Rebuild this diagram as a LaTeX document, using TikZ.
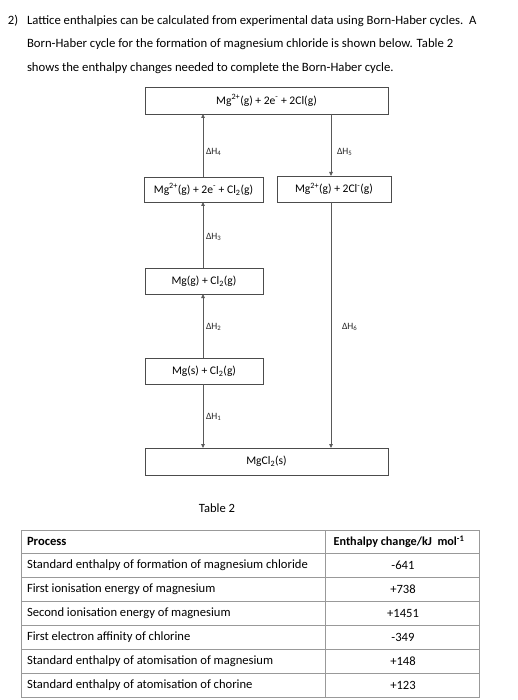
\documentclass[tikz,border=0pt]{standalone}
\usepackage{fontspec}
\setmainfont{Carlito}
\usetikzlibrary{arrows.meta}
\newcommand{\sps}[1]{\textsuperscript{#1}}
\newcommand{\sbs}[1]{\textsubscript{#1}}
\begin{document}
\begin{tikzpicture}[x=1pt,y=-1pt,
  every node/.style={inner sep=0pt,outer sep=0pt},
  para/.style={anchor=west,font=\fontsize{12.7}{15}\selectfont},
  lvl/.style={draw=black!70,line width=0.8pt,font=\fontsize{11.6}{13}\selectfont},
  dh/.style={anchor=west,font=\fontsize{9.6}{11}\selectfont,text=black!85},
  arr/.style={draw=black!65,line width=0.8pt,-{Triangle[length=4pt,width=3.5pt]}},
  grid/.style={draw=black!40,line width=0.8pt},
  cell/.style={anchor=west,font=\fontsize{12.6}{15}\selectfont},
  val/.style={font=\fontsize{12.6}{15}\selectfont}]
\useasboundingbox (0,0) rectangle (517,700);
% intro text
\node[para] (n2) at (8,21) {2)};
\node[para] (l1) at (27,21) {Lattice enthalpies can be calculated from experimental data using Born-Haber cycles.\ \ A};
\node[para] (l2) at (27,44.5) {Born-Haber cycle for the formation of magnesium chloride is shown below. Table 2};
\node[para] (l3) at (27,68) {shows the enthalpy changes needed to complete the Born-Haber cycle.};
% levels
\node[lvl,minimum width=243,minimum height=27] (top) at (266.5,100.5) {Mg\sps{2+}(g) + 2e\sps{-} + 2Cl(g)};
\node[lvl,minimum width=119,minimum height=25] (bl) at (203.5,189.5) {Mg\sps{2+}(g) + 2e\sps{-} + Cl\sbs{2}(g)};
\node[lvl,minimum width=114,minimum height=26] (br) at (334,189) {Mg\sps{2+}(g) + 2Cl\sps{-}(g)};
\node[lvl,minimum width=118,minimum height=26] (mgg) at (204,281) {Mg(g) + Cl\sbs{2}(g)};
\node[lvl,minimum width=118,minimum height=26] (mgs) at (204,371) {Mg(s) + Cl\sbs{2}(g)};
\node[lvl,minimum width=243,minimum height=27] (bot) at (266.5,461.5) {MgCl\sbs{2}(s)};
% arrows
\draw[arr] (bl.north -| 203,0) -- (top.south -| 203,0);
\draw[arr] (mgg.north -| 203,0) -- (bl.south -| 203,0);
\draw[arr] (mgs.north -| 203,0) -- (mgg.south -| 203,0);
\draw[arr] (mgs.south -| 203,0) -- (bot.north -| 203,0);
\draw[arr] (top.south -| 331,0) -- (br.north -| 331,0);
\draw[arr] (br.south -| 331,0) -- (bot.north -| 331,0);
\node[dh] (h4) at (206,152) {ΔH\sbs{4}};
\node[dh] (h5) at (337,152) {ΔH\sbs{5}};
\node[dh] (h3) at (206,237) {ΔH\sbs{3}};
\node[dh] (h2) at (206,327) {ΔH\sbs{2}};
\node[dh] (h6) at (342,327) {ΔH\sbs{6}};
\node[dh] (h1) at (206,417) {ΔH\sbs{1}};
% table
\node[val] (cap) at (217,508) {Table 2};
\draw[grid] (21,530) rectangle (479,697);
\draw[grid] (325,530) -- (325,697);
\foreach \y in {553,577,601,625,649,673} \draw[grid] (21,\y) -- (479,\y);
\node[cell,font=\fontsize{12.6}{15}\selectfont\bfseries] (hp) at (27,541.5) {Process};
\node[val,font=\fontsize{12.2}{15}\selectfont\bfseries] (he) at (399,541.5) {Enthalpy change/kJ\ \ mol\sps{-1}};
\node[cell] (p1) at (27,565) {Standard enthalpy of formation of magnesium chloride};
\node[cell] (p2) at (27,589) {First ionisation energy of magnesium};
\node[cell] (p3) at (27,613) {Second ionisation energy of magnesium};
\node[cell] (p4) at (27,637) {First electron affinity of chlorine};
\node[cell] (p5) at (27,661) {Standard enthalpy of atomisation of magnesium};
\node[cell] (p6) at (27,685) {Standard enthalpy of atomisation of chorine};
\node[val] (v1) at (403,565) {-641};
\node[val] (v2) at (403,589) {+738};
\node[val] (v3) at (403,613) {+1451};
\node[val] (v4) at (403,637) {-349};
\node[val] (v5) at (403,661) {+148};
\node[val] (v6) at (403,685) {+123};
\end{tikzpicture}
\end{document}
